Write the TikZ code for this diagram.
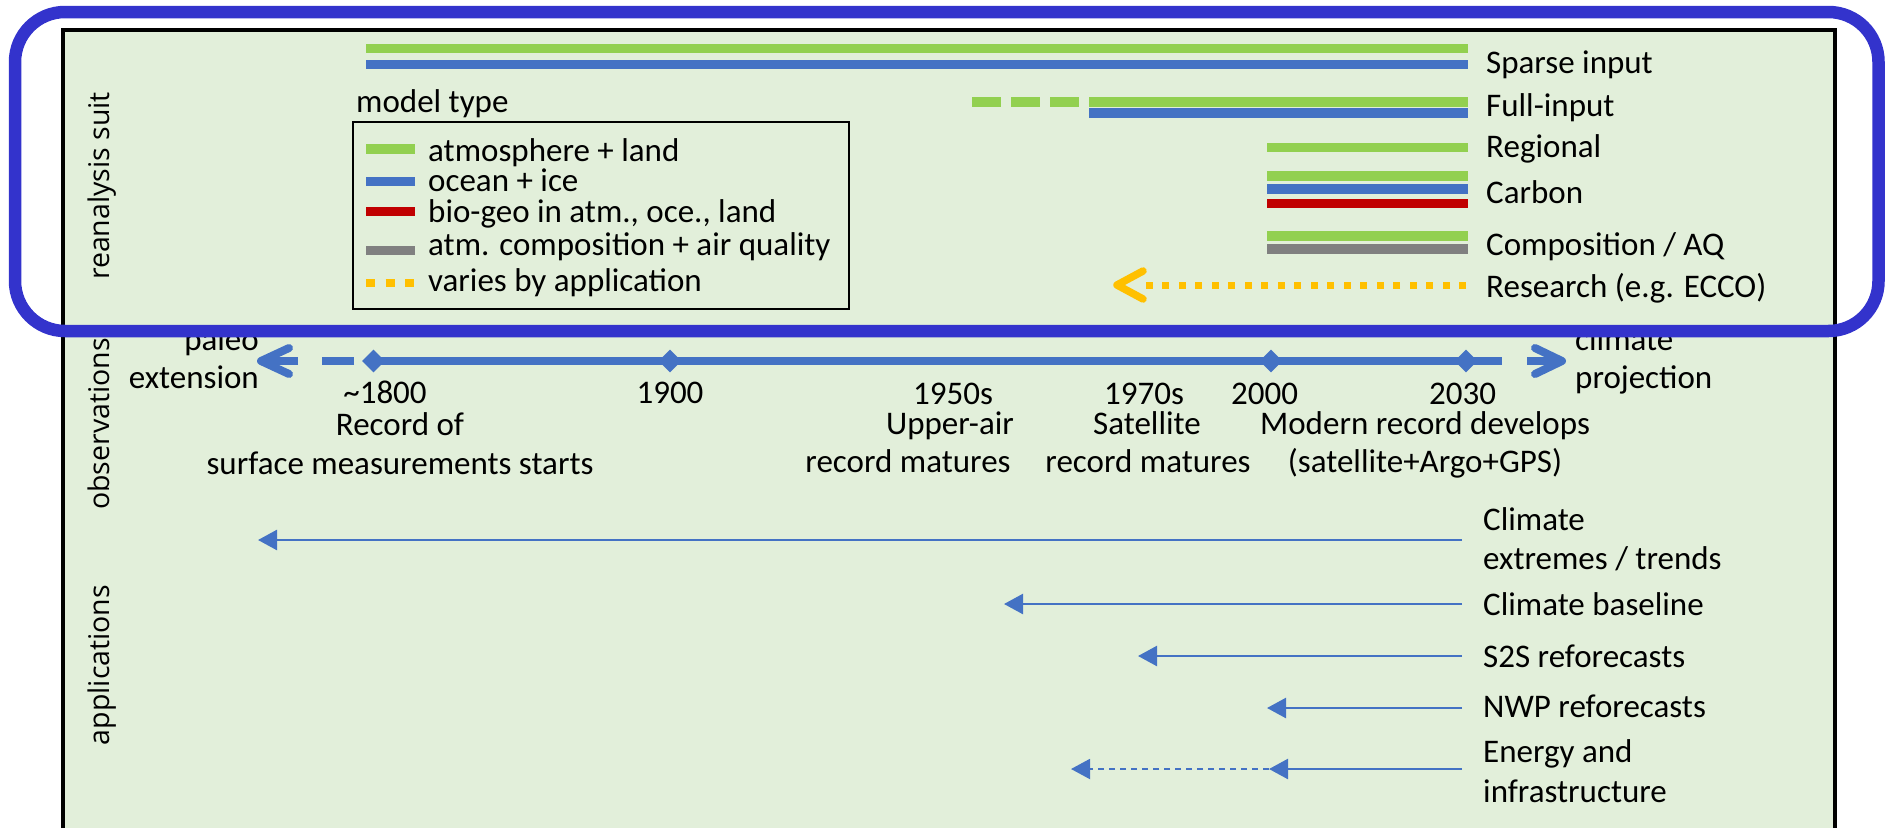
\documentclass[tikz,border=0pt]{standalone}
\usepackage{fontspec}
\setmainfont{Carlito}
\newfontfamily\sidefont{Open Sans}
\usetikzlibrary{arrows.meta,shapes.geometric}

\definecolor{panelgreen}{HTML}{E2EFDA}
\definecolor{atmgreen}{HTML}{92D050}
\definecolor{oceanblue}{HTML}{4472C4}
\definecolor{biored}{HTML}{C00000}
\definecolor{compgray}{HTML}{808080}
\definecolor{varyorange}{HTML}{FFC000}
\definecolor{frameblue}{HTML}{3333CC}

\begin{document}
\begin{tikzpicture}[x=1pt, y=-1pt,
  txt/.style={font=\fontsize{33}{39}\selectfont, inner sep=0pt, text=black},
  lbl/.style={txt, anchor=base west},
  ctr/.style={txt, anchor=base},
  rgt/.style={txt, anchor=base east},
  sidelabel/.style={font=\sidefont\fontsize{28.5}{34}\selectfont, rotate=90, anchor=base, inner sep=0pt},
  bar/.style={line width=9.5pt},
  axisline/.style={oceanblue, line width=8pt},
  chev/.style={line width=8pt, line cap=round, line join=round},
  yearmark/.style={diamond, fill=oceanblue, inner sep=0pt, minimum width=23pt, minimum height=23pt},
  apparrow/.style={oceanblue, line width=2.5pt, -{Triangle[length=19pt,width=20pt]}},
  varydots/.style={varyorange, dash pattern=on 7pt off 9.5pt},
]
\useasboundingbox (0,0) rectangle (1885,828);

% panel
\fill[panelgreen] (63,30) rectangle (1835,828);
\draw[line width=3.5pt] (63,828) -- (63,30) -- (1835,30) -- (1835,828);

% row labels
\node[sidelabel] (rowre) at (109,186) {reanalysis suit};
\node[sidelabel] (rowob) at (109,424) {observations};
\node[sidelabel] (rowap) at (109,665) {applications};

% ---------------- reanalysis suites ----------------
\draw[bar, atmgreen] (366,48.5) -- (1468,48.5);
\draw[bar, oceanblue] (366,64.5) -- (1468,64.5);
\node[lbl] (sparse) at (1486,73) {Sparse input};

\draw[bar, atmgreen, dash pattern=on 29pt off 10pt] (972,102) -- (1079,102);
\draw[bar, atmgreen] (1089,102) -- (1468,102);
\draw[bar, oceanblue] (1089,113) -- (1468,113);
\node[lbl] (full) at (1486,116) {Full-input};

\draw[bar, atmgreen] (1267,147.5) -- (1468,147.5);
\node[lbl] (regional) at (1486,157) {Regional};

\draw[bar, atmgreen] (1267,176) -- (1468,176);
\draw[bar, oceanblue] (1267,189) -- (1468,189);
\draw[bar, biored] (1267,203.5) -- (1468,203.5);
\node[lbl] (carbon) at (1486,203) {Carbon};

\draw[bar, atmgreen] (1267,236) -- (1468,236);
\draw[bar, compgray] (1267,249) -- (1468,249);
\node[lbl] (compaq) at (1486,255) {Composition / AQ};

\coordinate (resR) at (1466,285);
\coordinate (resL) at (1137,285);
\coordinate (resTip) at (1117,285);
\coordinate (resUp) at (1143,271);
\coordinate (resDn) at (1143,299);
\draw[varydots, line width=7pt] (resR) -- (resL);
\draw[chev, varyorange, line width=7.5pt] (resUp) -- (resTip) -- (resDn);
\node[lbl] (research) at (1486,297) {Research (e.g. ECCO)};

% legend
\node[lbl] (mtype) at (356,112) {model type};
\draw[line width=1.8pt] (353,122) rectangle (849,309);
\draw[bar, atmgreen] (366,149) -- (415,149);
\draw[bar, oceanblue] (366,181.5) -- (415,181.5);
\draw[bar, biored] (366,211.5) -- (415,211.5);
\draw[bar, compgray] (366,250.5) -- (415,250.5);
\draw[varyorange, line width=8.5pt, dash pattern=on 9pt off 10.5pt] (366,283) -- (415,283);
\node[lbl] (lgA) at (428,161) {atmosphere + land};
\node[lbl] (lgB) at (428,191) {ocean + ice};
\node[lbl] (lgC) at (428,222) {bio-geo in atm., oce., land};
\node[lbl] (lgD) at (428,255) {atm. composition + air quality};
\node[lbl] (lgE) at (428,291) {varies by application};

% ---------------- observations timeline ----------------
\node[yearmark] (d1800) at (373.5,361) {};
\node[yearmark] (d1900) at (670,361) {};
\node[yearmark] (d2000) at (1271,361) {};
\node[yearmark] (d2030) at (1466,361) {};
\coordinate (axisEnd) at (1502,361);
\draw[axisline] (d1800.center) -- (d1900.center) -- (d2000.center) -- (d2030.center) -- (axisEnd);

% paleo extension (dashed, open head)
\coordinate (paleoDashA) at (354,361);
\coordinate (paleoDashB) at (322,361);
\coordinate (paleoStem) at (298,361);
\coordinate (paleoTip) at (261,361);
\coordinate (paleoUp) at (289,348);
\coordinate (paleoDn) at (289,374);
\draw[axisline] (paleoDashA) -- (paleoDashB);
\draw[axisline] (paleoStem) -- (paleoTip);
\draw[chev, oceanblue] (paleoUp) -- (paleoTip) -- (paleoDn);

% climate projection (open head)
\coordinate (projStem) at (1527,361);
\coordinate (projTip) at (1562,361);
\coordinate (projUp) at (1535,348);
\coordinate (projDn) at (1535,374);
\draw[axisline] (projStem) -- (projTip);
\draw[chev, oceanblue] (projUp) -- (projTip) -- (projDn);

\node[rgt] (paleoA) at (259,350) {paleo};
\node[rgt] (paleoB) at (259,388) {extension};
\node[lbl] (projA) at (1575,350) {climate};
\node[lbl] (projB) at (1575,388) {projection};

\node[ctr] (y1800) at (385,403) {\textasciitilde1800};
\node[ctr] (y1800a) at (400,435) {Record of};
\node[ctr] (y1800b) at (400,474) {surface measurements starts};
\node[ctr] (y1900) at (670,403) {1900};
\node[ctr] (y1950) at (953,404) {1950s};
\node[ctr] (y1950a) at (950,434) {Upper-air};
\node[ctr] (y1950b) at (908,472) {record matures};
\node[ctr] (y1970) at (1144,404) {1970s};
\node[ctr] (y1970a) at (1147,434) {Satellite};
\node[ctr] (y1970b) at (1148,472) {record matures};
\node[ctr] (y2000) at (1264.5,404) {2000};
\node[ctr] (y2030) at (1462.5,404) {2030};
\node[ctr] (ymodA) at (1425,434) {Modern record develops};
\node[ctr] (ymodB) at (1425,472) {(satellite+Argo+GPS)};

% ---------------- applications ----------------
\coordinate (apA) at (1462,540);   \coordinate (apAtip) at (258,540);
\coordinate (apB) at (1462,604);   \coordinate (apBtip) at (1004,604);
\coordinate (apC) at (1462,656);   \coordinate (apCtip) at (1138,656);
\coordinate (apD) at (1462,708);   \coordinate (apDtip) at (1267,708);
\coordinate (apE) at (1462,769);   \coordinate (apEmid) at (1269,769);
\coordinate (apEtip) at (1071,769);
\draw[apparrow] (apA) -- (apAtip);
\draw[apparrow] (apB) -- (apBtip);
\draw[apparrow] (apC) -- (apCtip);
\draw[apparrow] (apD) -- (apDtip);
\draw[apparrow] (apE) -- (apEmid);
\draw[apparrow, line width=2pt, dash pattern=on 6pt off 5pt] (apEmid) -- (apEtip);

\node[lbl] (appA1) at (1483,530) {Climate};
\node[lbl] (appA2) at (1483,569) {extremes / trends};
\node[lbl] (appB) at (1483,615) {Climate baseline};
\node[lbl] (appC) at (1483,667) {S2S reforecasts};
\node[lbl] (appD) at (1483,717) {NWP reforecasts};
\node[lbl] (appE1) at (1483,762) {Energy and};
\node[lbl] (appE2) at (1483,802) {infrastructure};

% highlight frame round the reanalysis row
\draw[frameblue, line width=12.5pt, rounded corners=50pt] (15,12) rectangle (1878.5,331);
\end{tikzpicture}
\end{document}
